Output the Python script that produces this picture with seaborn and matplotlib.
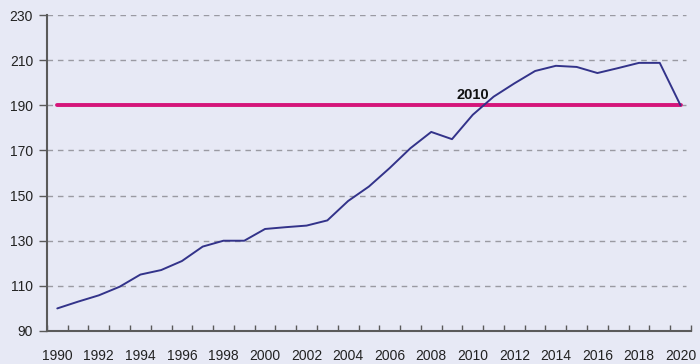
import matplotlib
matplotlib.use("Agg")
import matplotlib.pyplot as plt
import seaborn as sns
import pandas as pd

# values (index, 2010 = 190)
years = list(range(1990, 2021))
index_values = [100, 103, 105.8, 109.6, 115, 117, 121, 127.4, 130, 130,
                135.2, 136, 136.7, 139, 147.6, 154, 162.2, 171, 178.2, 175,
                185.8, 193.8, 199.7, 205.2, 207.5, 207, 204.3, 206.5, 208.8, 208.8,
                190]
ref_value = 190
ref_label = "2010"
y_ticks = [90, 110, 130, 150, 170, 190, 210, 230]
x_ticks = list(range(1990, 2021, 2))

bg = "#e7e9f5"
line_color = "#33338a"
ref_color = "#d5157a"

sns.set_theme(style="white")
plt.rcParams["font.family"] = ["Liberation Sans", "DejaVu Sans"]

df = pd.DataFrame({"year": years, "value": index_values})

fig = plt.figure(figsize=(7, 3.64), dpi=100, facecolor=bg)
ax = fig.add_axes([0.067, 0.0907, 0.920, 0.868])
ax.set_facecolor(bg)

# dashed grid
for v in y_ticks[1:]:
    ax.axhline(v, xmin=0, xmax=0.993, color="#9a9aa2", lw=1, ls=(0, (4, 3.5)), zorder=1)

# reference line at the 2010 level
ref_df = pd.DataFrame({"year": [years[0], years[-1]], "value": [ref_value, ref_value]})
sns.lineplot(data=ref_df, x="year", y="value", ax=ax, color=ref_color, lw=2.8, zorder=2)

sns.lineplot(data=df, x="year", y="value", ax=ax, color=line_color, lw=1.4, zorder=3)

ax.text(2010, ref_value + 1.5, ref_label, ha="center", va="bottom",
        fontsize=10.5, fontweight="bold", color="#111111")

ax.set_xlim(1989.5, 2020.5)
ax.set_ylim(90, 230)
ax.set_yticks(y_ticks)
ax.set_xticks(x_ticks)
ax.set_xticks([y + 0.5 for y in range(1989, 2021)], minor=True)
ax.set_xlabel("")
ax.set_ylabel("")

for s in ["top", "right"]:
    ax.spines[s].set_visible(False)
for s in ["left", "bottom"]:
    ax.spines[s].set_color("#5a5a5a")
    ax.spines[s].set_linewidth(1.5)

ax.tick_params(axis="y", which="major", left=True, length=6, width=1,
               color="#5a5a5a", labelsize=10, labelcolor="#222222", pad=4)
ax.tick_params(axis="x", which="major", bottom=False, labelsize=10,
               labelcolor="#222222", pad=7)
ax.tick_params(axis="x", which="minor", bottom=True, direction="in", length=4,
               width=1, color="#5a5a5a")

fig.savefig("out.png", dpi=100, facecolor=bg)
